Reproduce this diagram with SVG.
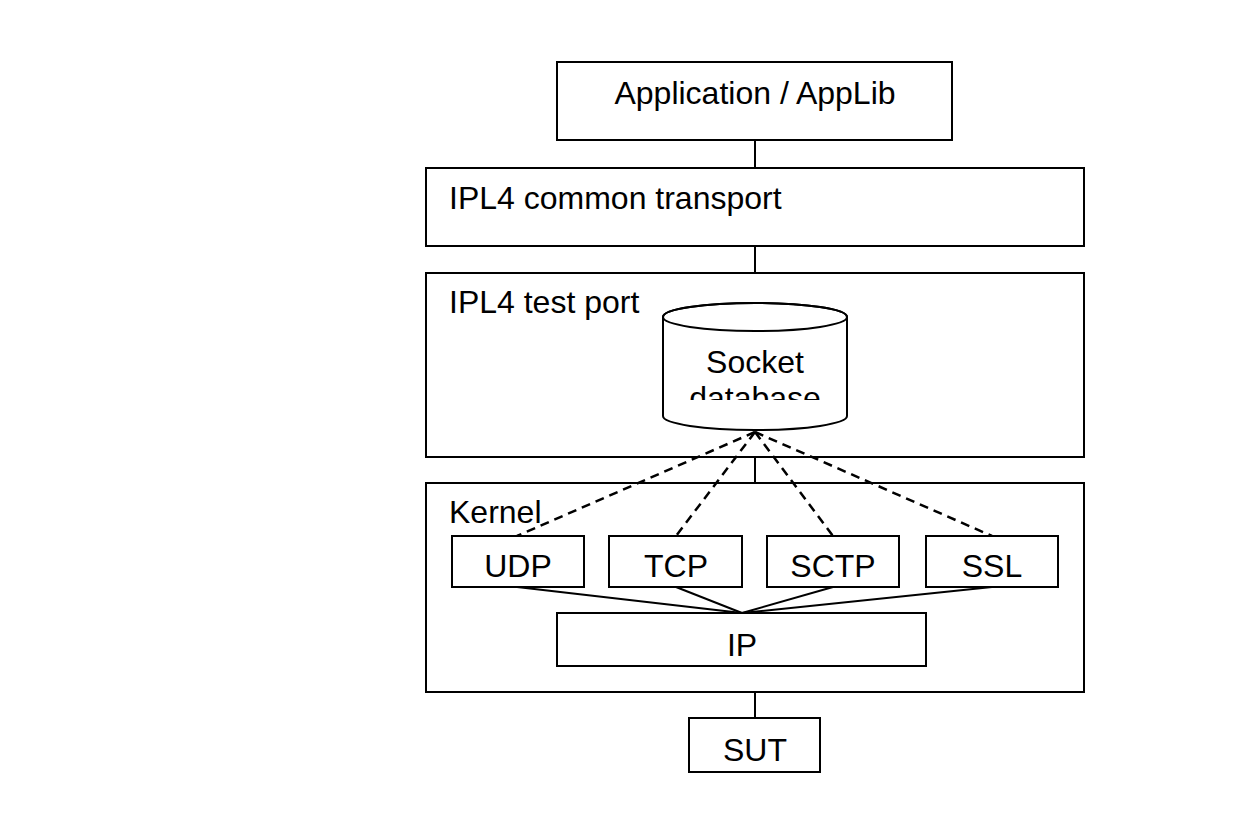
<svg xmlns="http://www.w3.org/2000/svg" width="1237" height="820" viewBox="0 0 1237 820">
<style>
.box{fill:#fff;stroke:#000;stroke-width:2}
.t{font-family:"Liberation Sans",Arial,sans-serif;font-size:32px;fill:#000}
.c{text-anchor:middle}
.ln{stroke:#000;stroke-width:2;fill:none}
.dash{stroke:#000;stroke-width:2.5;fill:none;stroke-dasharray:9,6}
</style>
<defs>
<clipPath id="dbclip"><rect x="663" y="330" width="185" height="70"/></clipPath>
</defs>
<rect width="1237" height="820" fill="#fff"/>
<g id="connectors">
<line class="ln" x1="755" y1="140" x2="755" y2="168"/>
<line class="ln" x1="755" y1="246" x2="755" y2="273"/>
<line class="ln" x1="755" y1="457" x2="755" y2="483"/>
<line class="ln" x1="755" y1="692" x2="755" y2="718"/>
</g>
<g id="app"><rect class="box" x="557" y="62" width="395" height="78"/><text class="t c" x="755" y="104">Application / AppLib</text></g>
<g id="common"><rect class="box" x="426" y="168" width="658" height="78"/><text class="t" x="449" y="209">IPL4 common transport</text></g>
<g id="testport"><rect class="box" x="426" y="273" width="658" height="184"/><text class="t" x="449" y="313">IPL4 test port</text></g>
<g id="socketdb">
<path class="box" d="M663,317 L663,416 A92,14 0 0 0 847,416 L847,317 A92,14 0 0 0 663,317 Z"/>
<ellipse class="ln" cx="755" cy="317" rx="92" ry="14"/>
<text class="t c" x="755" y="373">Socket</text>
<text class="t c" x="755" y="409" clip-path="url(#dbclip)">database</text>
</g>
<g id="kernel"><rect class="box" x="426" y="483" width="658" height="209"/><text class="t" x="449" y="523">Kernel</text></g>
<g id="connectors-kernel">
<line class="dash" x1="755" y1="432" x2="517" y2="536"/>
<line class="dash" x1="755" y1="432" x2="676" y2="536"/>
<line class="dash" x1="755" y1="432" x2="833" y2="536"/>
<line class="dash" x1="755" y1="432" x2="992" y2="536"/>
<line class="ln" x1="517" y1="587" x2="742" y2="613"/>
<line class="ln" x1="676" y1="587" x2="742" y2="613"/>
<line class="ln" x1="833" y1="587" x2="742" y2="613"/>
<line class="ln" x1="992" y1="587" x2="742" y2="613"/>
</g>
<g id="udp"><rect class="box" x="452" y="536" width="132" height="51"/><text class="t c" x="518" y="577">UDP</text></g>
<g id="tcp"><rect class="box" x="609" y="536" width="133" height="51"/><text class="t c" x="676" y="577">TCP</text></g>
<g id="sctp"><rect class="box" x="767" y="536" width="132" height="51"/><text class="t c" x="833" y="577">SCTP</text></g>
<g id="ssl"><rect class="box" x="926" y="536" width="132" height="51"/><text class="t c" x="992" y="577">SSL</text></g>
<g id="ip"><rect class="box" x="557" y="613" width="369" height="53"/><text class="t c" x="742" y="656">IP</text></g>
<g id="sut"><rect class="box" x="689" y="718" width="131" height="54"/><text class="t c" x="755" y="761">SUT</text></g>
</svg>
